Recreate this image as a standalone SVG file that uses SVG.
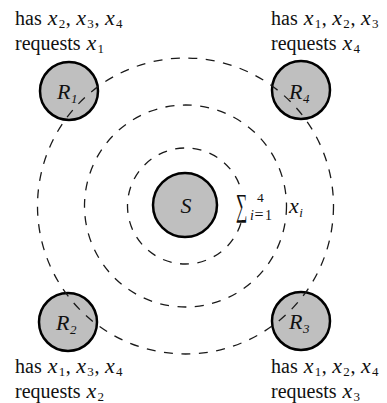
<svg xmlns="http://www.w3.org/2000/svg" width="387" height="403" viewBox="0 0 387 403">
<style>
.node{fill:#bfbfbf;stroke:#000;stroke-width:2.5}
.ring{fill:none;stroke:#1a1a1a;stroke-width:1.3;stroke-dasharray:9 8.5}
.t{font-family:"Liberation Serif","Times New Roman",serif;font-size:20px;fill:#111}
.m{font-family:"Liberation Serif","Times New Roman",serif;font-style:italic;font-size:22px;fill:#111}
.s{font-family:"Liberation Serif","Times New Roman",serif;font-size:13.5px;fill:#111}
.si{font-family:"Liberation Serif","Times New Roman",serif;font-style:italic;font-size:14px;fill:#111}
.mi{font-style:italic;font-size:22px}
.sb{font-size:13px}
</style>
<rect width="387" height="403" fill="#fff"/>
<g id="S">
<circle class="node" cx="185" cy="205" r="32"/>
<text class="m" x="186" y="213" text-anchor="middle">S</text>
</g>
<g id="R1">
<circle class="node" cx="69" cy="91" r="29"/>
<text class="m" x="57" y="99">R<tspan class="sb" dy="4" dx="0.5">1</tspan></text>
</g>
<g id="R4">
<circle class="node" cx="301" cy="90" r="29"/>
<text class="m" x="289" y="99">R<tspan class="sb" dy="4" dx="0.5">4</tspan></text>
</g>
<g id="R2">
<circle class="node" cx="68" cy="322" r="29"/>
<text class="m" x="56" y="330">R<tspan class="sb" dy="4" dx="0.5">2</tspan></text>
</g>
<g id="R3">
<circle class="node" cx="301" cy="321" r="29"/>
<text class="m" x="289" y="329">R<tspan class="sb" dy="4" dx="0.5">3</tspan></text>
</g>
<g id="rings">
<circle class="ring" cx="185.5" cy="206" r="58"/>
<circle class="ring" cx="185.5" cy="206" r="101"/>
<circle class="ring" cx="185.5" cy="206" r="148"/>
</g>
<g id="sum-label">
<rect x="236" y="192" width="48" height="30" fill="#fff"/>
<text transform="translate(236,216) scale(0.5,1)" x="0" y="0" font-family="'Liberation Serif',serif" font-size="32" fill="#111">∑</text>
<text class="s" x="257" y="202">4</text>
<text class="si" x="250" y="220">i<tspan font-style="normal" font-size="16" dx="0.5">=</tspan><tspan font-style="normal" dx="1.5">1</tspan></text>
<text class="m" x="289" y="213">x<tspan class="sb" dy="4" dx="0.5">i</tspan></text>
</g>
<g id="label-R1">
<text class="t" x="15" y="24.5">has <tspan class="mi" dx="1">x</tspan><tspan class="sb" dy="3.5" dx="1.2">2</tspan><tspan dy="-3.5" dx="0.6">, </tspan><tspan class="mi" dx="0.6">x</tspan><tspan class="sb" dy="3.5" dx="1.2">3</tspan><tspan dy="-3.5" dx="0.6">, </tspan><tspan class="mi" dx="0.6">x</tspan><tspan class="sb" dy="3.5" dx="1.2">4</tspan></text>
<text class="t" x="15" y="49.5">requests <tspan class="mi" dx="1">x</tspan><tspan class="sb" dy="3.5" dx="1.2">1</tspan></text>
</g>
<g id="label-R4">
<text class="t" x="271" y="24.5">has <tspan class="mi" dx="1">x</tspan><tspan class="sb" dy="3.5" dx="1.2">1</tspan><tspan dy="-3.5" dx="0.6">, </tspan><tspan class="mi" dx="0.6">x</tspan><tspan class="sb" dy="3.5" dx="1.2">2</tspan><tspan dy="-3.5" dx="0.6">, </tspan><tspan class="mi" dx="0.6">x</tspan><tspan class="sb" dy="3.5" dx="1.2">3</tspan></text>
<text class="t" x="271" y="49.5">requests <tspan class="mi" dx="1">x</tspan><tspan class="sb" dy="3.5" dx="1.2">4</tspan></text>
</g>
<g id="label-R2">
<text class="t" x="15" y="372.5">has <tspan class="mi" dx="1">x</tspan><tspan class="sb" dy="3.5" dx="1.2">1</tspan><tspan dy="-3.5" dx="0.6">, </tspan><tspan class="mi" dx="0.6">x</tspan><tspan class="sb" dy="3.5" dx="1.2">3</tspan><tspan dy="-3.5" dx="0.6">, </tspan><tspan class="mi" dx="0.6">x</tspan><tspan class="sb" dy="3.5" dx="1.2">4</tspan></text>
<text class="t" x="15" y="397.5">requests <tspan class="mi" dx="1">x</tspan><tspan class="sb" dy="3.5" dx="1.2">2</tspan></text>
</g>
<g id="label-R3">
<text class="t" x="271" y="372.5">has <tspan class="mi" dx="1">x</tspan><tspan class="sb" dy="3.5" dx="1.2">1</tspan><tspan dy="-3.5" dx="0.6">, </tspan><tspan class="mi" dx="0.6">x</tspan><tspan class="sb" dy="3.5" dx="1.2">2</tspan><tspan dy="-3.5" dx="0.6">, </tspan><tspan class="mi" dx="0.6">x</tspan><tspan class="sb" dy="3.5" dx="1.2">4</tspan></text>
<text class="t" x="271" y="397.5">requests <tspan class="mi" dx="1">x</tspan><tspan class="sb" dy="3.5" dx="1.2">3</tspan></text>
</g>
</svg>
